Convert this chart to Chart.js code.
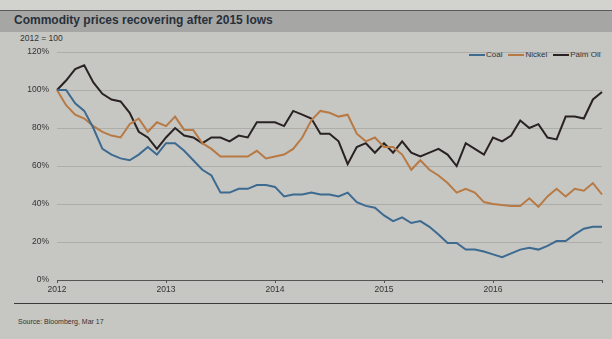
<!DOCTYPE html>
<html>
<head>
<meta charset="utf-8">
<script src="https://cdn.jsdelivr.net/npm/chart.js@4"></script>
<style>
  html, body { margin: 0; padding: 0; }
  body {
    width: 612px; height: 339px; overflow: hidden; position: relative;
    background: #c6c6c2;
    font-family: "Liberation Sans", Arial, sans-serif;
  }
  #top { position: absolute; left: 0; top: 0; width: 612px; height: 10px; background: #d2d2ce; }
  #band {
    position: absolute; left: 0; top: 10px; width: 612px; height: 21px;
    background: #a6a6a4; border-top: 1px solid #5a5a5a;
  }
  #title {
    position: absolute; left: 14px; top: 13px;
    font-weight: bold; font-size: 12px; color: #27303b;
  }
  #base { position: absolute; left: 20px; top: 33px; font-size: 8.5px; color: #333; }
  #legend { position: absolute; left: 469px; top: 50px; font-size: 8px; color: #333; white-space: nowrap; }
  #legend span.item { margin-right: 6px; }
  #legend span.line { display: inline-block; width: 16px; height: 2px; vertical-align: middle; margin-right: 1px; }
  #rule { position: absolute; left: 14px; top: 303px; width: 598px; height: 1px; background: #3a3a3a; }
  #source { position: absolute; left: 18px; top: 318px; font-size: 7px; color: #333; }
  #wrap { position: absolute; left: 0; top: 0; width: 612px; height: 339px; }
</style>
</head>
<body>
<div id="top"></div>
<div id="band"></div>
<div id="title">Commodity prices recovering after 2015 lows</div>
<div id="base">2012 = 100</div>
<div id="legend"></div>
<div id="rule"></div>
<div id="source">Source: Bloomberg, Mar 17</div>
<div id="wrap"><canvas id="chart"></canvas></div>
<script>
// monthly, Jan 2012 .. Jan 2017
const years = ["2012", "2013", "2014", "2015", "2016"];
const seriesNames = ["Coal", "Nickel", "Palm Oil"];
const seriesColors = ["#3d6a91", "#b87a45", "#2a2222"];

const coal = [100, 100, 93, 89, 80, 69, 66, 64, 63, 66, 70, 66,
              72, 72, 68, 63, 58, 55, 46, 46, 48, 48, 50, 50,
              49, 44, 45, 45, 46, 45, 45, 44, 46, 41, 39, 38,
              34, 31, 33, 30, 31, 28, 24, 19.5, 19.5, 16, 16, 15,
              13.5, 12, 14, 16, 17, 16, 18, 20.5, 20.5, 24, 27, 28,
              28];
const nickel = [100, 92, 87, 85, 81, 78, 76, 75, 82, 85, 78, 83,
                81, 86, 79, 79, 72, 69, 65, 65, 65, 65, 68, 64,
                65, 66, 69, 75, 84, 89, 88, 86, 87, 77, 73, 75,
                70, 70, 66, 58, 63, 58, 55, 51, 46, 48, 46, 41,
                40, 39.5, 39, 39, 43, 38.5, 44, 48, 44, 48, 47, 51,
                45];
const palmOil = [100, 105, 111, 113, 104, 98, 95, 94, 88, 78, 75, 69,
                 75, 80, 76, 75, 72, 75, 75, 73, 76, 75, 83, 83,
                 83, 81, 89, 87, 85, 77, 77, 73, 61, 70, 72, 67,
                 72, 67, 73, 67, 65, 67, 69, 66, 60, 72, 69, 66,
                 75, 73, 76, 84, 80, 82, 75, 74, 86, 86, 85, 95,
                 99];

const labels = coal.map((v, i) => (i % 12 === 0 && years[i / 12]) ? years[i / 12] : "");
const values = [coal, nickel, palmOil];

const legend = document.getElementById('legend');
seriesNames.forEach(function(name, k) {
    legend.innerHTML += '<span class="item"><span class="line" style="background:' +
        seriesColors[k] + '"></span>' + name + '</span>';
});

const data = {
    labels: labels,
    datasets: seriesNames.map(function(name, k) {
        return {
            label: name,
            data: values[k],
            borderColor: seriesColors[k],
            backgroundColor: seriesColors[k],
            borderWidth: 2,
            pointRadius: 0,
            tension: 0,
        };
    }),
};

const config = {
    type: "line",
    data,
    options: {
        responsive: false,
        animation: false,
        layout: { padding: { left: 7, right: 10, top: 52, bottom: 39 } },
        plugins: { legend: { display: false }, tooltip: { enabled: false } },
        scales: {
            x: {
                offset: false,
                afterFit: function(scale) { scale.height = 20; },
                border: { display: true, color: "#555", width: 1 },
                grid: {
                    drawOnChartArea: false,
                    tickLength: 3,
                    color: function(ctx) { return ctx.index % 12 === 0 ? "#555" : "rgba(0,0,0,0)"; },
                },
                ticks: {
                    autoSkip: false,
                    maxRotation: 0,
                    color: "#333",
                    font: { size: 8.5, family: "Liberation Sans" },
                    padding: 2,
                },
            },
            y: {
                min: 0,
                max: 120,
                afterFit: function(scale) { scale.width = 50; },
                border: { display: false },
                grid: {
                    color: function(ctx) { return ctx.tick.value === 0 ? "rgba(0,0,0,0)" : "rgba(115,115,115,0.3)"; },
                    borderDash: [1, 2],
                    drawTicks: false,
                },
                ticks: {
                    stepSize: 20,
                    padding: 8,
                    color: "#333",
                    font: { size: 8.5, family: "Liberation Sans" },
                    callback: function(v) { return v + "%"; },
                },
            },
        },
    },
};

const canvas = document.getElementById("chart");
canvas.width = 612;
canvas.height = 339;
var chartLine = new Chart(canvas, config);
</script>
</body>
</html>
